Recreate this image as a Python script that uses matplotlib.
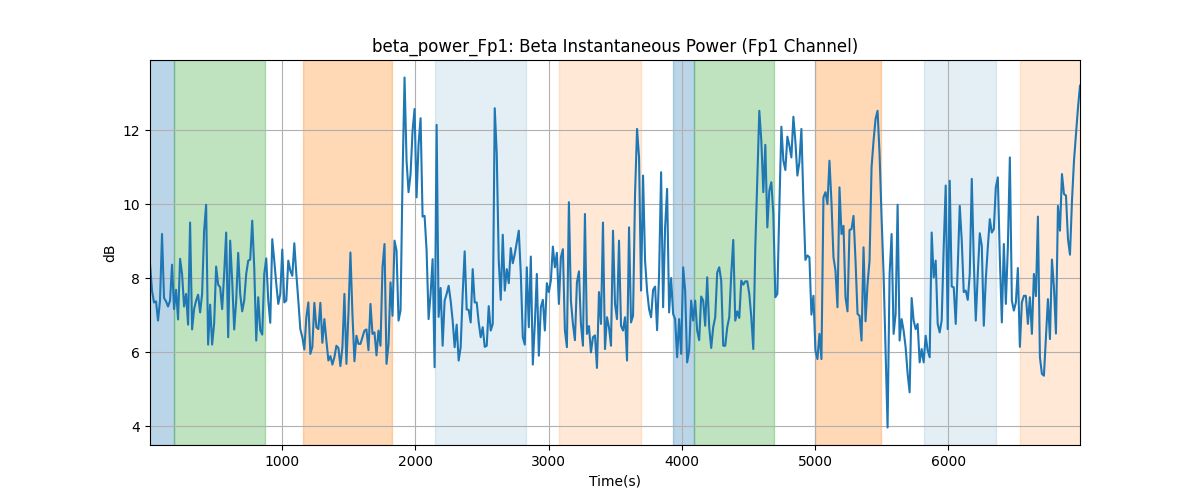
import numpy as np
import matplotlib
matplotlib.use("Agg")
import matplotlib.pyplot as plt

# Beta power (dB), one sample every 15 s
power_db = [
    8.38, 7.66, 7.34, 7.37, 6.85, 7.39, 9.19, 7.46, 7.37, 7.23, 7.39, 8.36, 7.16, 7.68, 6.88, 8.52,
    8.11, 7.23, 7.57, 6.74, 9.50, 6.61, 7.16, 7.39, 7.55, 7.07, 7.57, 9.28, 9.98, 6.20, 7.28, 6.20,
    6.77, 8.31, 7.82, 7.75, 7.16, 8.11, 9.23, 6.40, 9.01, 7.93, 6.61, 7.39, 8.68, 7.57, 7.10, 7.39,
    8.11, 8.47, 8.50, 9.55, 8.29, 6.31, 7.48, 6.59, 6.47, 8.11, 8.53, 7.39, 6.79, 9.05, 8.47, 7.84,
    7.30, 7.57, 8.77, 7.34, 7.39, 8.47, 8.20, 8.06, 8.94, 8.11, 7.39, 6.62, 6.40, 6.07, 6.94, 7.34,
    5.95, 6.14, 7.33, 6.67, 6.62, 7.33, 6.25, 6.89, 6.31, 5.77, 5.89, 5.66, 5.86, 6.17, 6.11, 5.62,
    6.13, 7.57, 5.68, 7.03, 8.69, 7.03, 5.75, 6.44, 6.22, 6.22, 6.40, 6.58, 6.61, 6.05, 7.30, 6.49,
    6.53, 5.91, 6.58,
    6.17, 8.29, 8.92, 5.68, 6.22, 7.88, 6.98, 9.01, 8.74, 6.85, 7.12, 10.72, 13.42, 11.17, 10.32, 10.81,
    11.98, 12.57, 10.18, 11.62, 12.32, 9.66, 9.68, 8.74, 6.89, 7.57, 8.51, 5.59, 12.14, 6.95, 7.73, 6.17,
    7.39, 7.57, 7.79, 7.39, 6.85, 6.13, 6.74, 5.77, 6.13, 7.57, 8.72, 7.15, 7.14, 6.80, 8.24, 7.34,
    7.34, 6.80, 6.40, 6.67, 6.14, 6.17, 7.24, 6.58, 6.76, 12.59, 11.35, 8.47, 7.41, 9.17, 7.66, 8.24,
    7.86, 8.81, 8.40, 8.65, 8.96, 9.28, 8.11, 6.40, 6.20, 8.29, 6.67, 8.58, 5.66, 6.76, 8.11, 5.90,
    7.21, 7.41, 6.58, 7.86, 7.62, 7.93, 8.85, 8.29, 8.68, 7.30, 8.56, 8.78, 6.59, 6.13, 10.05, 7.39,
    6.76, 6.32, 7.88, 8.18, 6.76, 6.17, 9.73, 6.49, 6.70, 5.99, 6.40, 6.45, 5.57, 7.62, 6.76, 9.50,
    6.08, 6.94, 6.67,
    6.17, 9.28, 7.30, 6.89, 9.01, 6.71, 6.58, 6.94, 5.77, 9.37, 6.80, 6.98, 10.27, 12.03, 11.26, 7.66,
    10.77, 8.47, 7.66, 7.16, 6.94, 7.68, 7.77, 6.59, 8.11, 10.86, 7.21, 9.37, 10.41, 7.07, 8.00, 7.03,
    6.89, 5.86, 6.89, 5.95, 8.29, 7.66, 5.72, 6.04, 7.39, 6.85, 7.39, 6.58, 6.32, 7.50, 7.39, 6.71,
    8.02, 6.67, 6.11, 6.67, 6.94, 8.15, 8.29, 7.93, 6.17, 6.17, 6.67, 6.94, 8.11, 9.03, 6.85, 7.10,
    6.92, 7.93, 7.82, 7.91, 7.91, 7.57, 6.94, 6.08, 8.83, 10.63, 12.52, 11.71, 10.32, 11.60, 9.37, 10.36,
    10.59, 9.73, 7.48, 7.57, 9.91, 12.09, 11.17, 10.92, 11.82, 11.58, 11.26, 12.36, 11.69, 10.77, 11.13, 12.03,
    10.09, 8.49, 8.61, 8.56, 7.01, 7.52, 6.04, 5.81, 6.49, 5.81, 10.18, 10.32, 10.00, 11.17, 10.05, 8.56,
    8.20, 7.21, 10.45,
    9.19, 9.41, 7.48, 7.10, 9.30, 9.32, 9.68, 8.47, 7.03, 6.98, 6.31, 8.83, 6.83, 7.84, 8.47, 10.99,
    11.71, 12.30, 12.52, 11.35, 9.64, 8.11, 6.04, 3.96, 8.11, 9.19, 6.49, 7.03, 9.98, 6.31, 6.89, 6.58,
    6.13, 5.41, 4.91, 7.46, 6.85, 6.62, 6.76, 5.72, 6.08, 5.72, 6.44, 6.04, 5.86, 9.23, 8.02, 8.47,
    6.76, 6.53, 6.86, 8.83, 10.50, 6.62, 10.63, 7.77, 7.75, 6.76, 8.29, 9.95, 9.01, 7.62, 7.66, 7.41,
    8.11, 10.68, 8.47, 6.85, 8.11, 9.21, 8.87, 6.71, 7.97, 8.83, 9.59, 9.23, 9.32, 10.45, 10.72, 8.56,
    6.80, 8.92, 7.30, 8.83, 11.26, 7.39, 7.12, 7.34, 8.27, 6.14, 7.34, 7.52, 7.52, 6.76, 7.48, 6.49,
    8.11, 7.51, 9.66, 5.86, 5.41, 5.36, 6.40, 7.43, 6.35, 8.50, 7.75, 6.50, 9.95, 9.28, 10.81, 10.27,
    10.23, 9.05, 8.63, 10.09, 11.17, 11.89, 12.61, 13.20,
]
dt = 15.04
t0 = 9

# Shaded segments: (start, end, colour, alpha)
seg_start = [0, 190, 1155, 2148, 3080, 3936, 4088, 4998, 5815, 6537]
seg_end = [190, 872, 1826, 2834, 3692, 4088, 4692, 5496, 6356, 7000]
seg_color = ["C0", "C2", "C1", "C0", "C1", "C0", "C2", "C1", "C0", "C1"]
seg_alpha = [0.3, 0.3, 0.3, 0.12, 0.17, 0.3, 0.3, 0.3, 0.12, 0.17]

t = t0 + dt * np.arange(len(power_db))

fig, ax = plt.subplots(figsize=(12, 5), dpi=100)
for s, e, c, a in zip(seg_start, seg_end, seg_color, seg_alpha):
    ax.axvspan(s, e, color=c, alpha=a)
ax.plot(t, power_db, color="C0", linewidth=1.5)
ax.set_xlim(t[0], t[-1])
ax.grid(True)
ax.set_title("beta_power_Fp1: Beta Instantaneous Power (Fp1 Channel)")
ax.set_xlabel("Time(s)")
ax.set_ylabel("dB")

fig.savefig("out.png")
